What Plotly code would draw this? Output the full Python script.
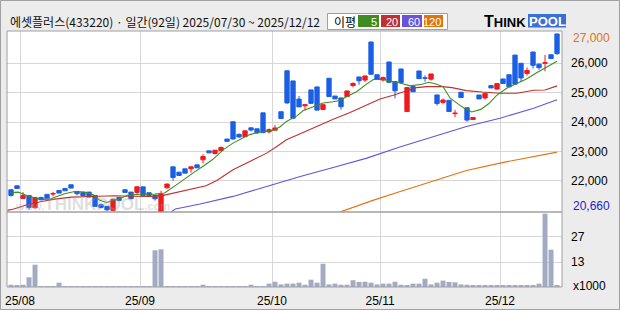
import plotly.graph_objects as go

# ---------------- data ----------------
day_index = list(range(92))   # 2025/07/30 .. 2025/12/12 trading days

opens = [21690, 21826, 21396, 21498, 21078, 21431, 21533, 21545, 21669, 21737,
         21862, 21635, 21601, 21613, 21500, 21182, 21130, 20990, 21431, 21692,
         21613, 21600, 21790, 21590, 21495, 20900, 21759, 22473, 22292, 22405,
         22405, 22541, 22711, 23017, 22927, 23028, 23420, 24010, 23580, 23500,
         23800, 23767, 24311, 23665, 23721, 24350, 25745, 25399, 24780, 24550,
         25093, 25195, 24424, 25490, 24885, 24820, 24866, 25245, 25535, 25430,
         26726, 25610, 25430, 26045, 25376, 25807, 24356, 25206, 25739, 25505,
         25460, 24922, 24668, 24740, 24285, 25014, 24485, 24084, 24920, 24820,
         25240, 25120, 25466, 25610, 26280, 26000, 25655, 26385, 25970, 26000,
         26290, 27000]
highs = [21720, 21840, 21610, 21498, 21430, 21450, 21533, 21624, 21669, 21737,
         21862, 21635, 21601, 21613, 21500, 21230, 21130, 21380, 21431, 21692,
         21613, 21794, 21790, 21590, 21495, 21657, 21910, 22473, 22292, 22405,
         22473, 22541, 22904, 23017, 23040, 23165, 23420, 24010, 23610, 23699,
         23820, 23767, 24311, 23780, 23902, 24350, 25745, 25399, 24889, 24594,
         25093, 25195, 24600, 25490, 24885, 24820, 25059, 25350, 25535, 25569,
         26726, 25610, 25545, 26045, 25376, 25807, 25172, 25206, 25739, 25590,
         25637, 24922, 24800, 24740, 24413, 25014, 24485, 24170, 24920, 24975,
         25240, 25308, 25466, 25610, 26280, 26000, 25860, 26385, 25990, 26283,
         26300, 27000]
lows = [21460, 21736, 21396, 21010, 21060, 21330, 21386, 21465, 21578, 21658,
        21749, 21500, 21488, 21443, 21125, 21050, 20960, 20950, 21300, 21601,
        21386, 21520, 21500, 21500, 21320, 20660, 21725, 21997, 22179, 22258,
        22280, 22439, 22587, 22949, 22890, 23028, 23340, 23400, 23460, 23500,
        23680, 23590, 23620, 23610, 23721, 24118, 24620, 24110, 24515, 24390,
        24620, 24390, 24424, 24866, 24787, 24420, 24866, 25180, 25270, 25360,
        25626, 25450, 25380, 25350, 24805, 25290, 24356, 25030, 25478, 25370,
        25410, 24560, 24610, 24356, 24163, 24832, 24010, 24070, 24787, 24760,
        25160, 25100, 25310, 25200, 25290, 25380, 25580, 25820, 25780, 25728,
        26160, 26280]
closes = [21500, 21736, 21498, 21090, 21430, 21352, 21386, 21560, 21578, 21658,
          21749, 21556, 21488, 21443, 21125, 21091, 21010, 21370, 21329, 21601,
          21386, 21794, 21500, 21500, 21386, 21544, 21884, 22110, 22179, 22258,
          22473, 22439, 22825, 22949, 23040, 23131, 23340, 23420, 23490, 23699,
          23725, 23630, 23640, 23740, 23795, 24118, 24650, 24129, 24515, 24590,
          24635, 24405, 24590, 24866, 24787, 24520, 25059, 25312, 25405, 25569,
          25626, 25450, 25512, 25350, 25065, 25345, 25172, 25030, 25478, 25490,
          25637, 24628, 24747, 24356, 24300, 24832, 24065, 24152, 24787, 24975,
          25160, 25308, 25310, 25200, 25290, 25500, 25755, 25931, 25852, 26020,
          26160, 26330]
volumes = [1.2, 0.6, 1.2, 5.2, 11.9, 0.5, 0.5, 0.5, 2.3, 0.5,
           0.5, 0.5, 0.5, 0.5, 0.5, 0.5, 0.5, 0.5, 0.5, 0.5,
           0.5, 0.5, 0.5, 0.5, 19.6, 20.1, 0.5, 0.5, 0.5, 0.5,
           0.5, 0.5, 1.2, 0.5, 0.5, 0.5, 0.5, 0.5, 0.5, 0.5,
           1.2, 0.5, 0.5, 1.8, 2.8, 1.4, 1.8, 1.8, 2.3, 1.2,
           3.9, 2.3, 12.4, 1.4, 1.8, 1.2, 1.2, 3.6, 2.7, 2.8,
           2.3, 1.4, 1.8, 1.8, 2.8, 1.2, 0.7, 1.8, 1.8, 4.4,
           1.4, 2.3, 3.4, 2.7, 2.5, 1.4, 1.2, 0.7, 0.7, 0.9,
           1.1, 0.9, 0.9, 1.1, 1.1, 0.9, 0.9, 0.9, 1.8, 39.1,
           19.9, 0.7]

# moving averages at these day positions
ma5_x = [0, 1.2, 2.3, 3.4, 4.5, 6.2, 7.3, 8.9, 10.6, 12.3, 13.7, 14.8, 15.9, 17.3,
         18.4, 19.5, 21.5, 24, 25.6, 27.5, 29, 30.6, 32.2, 33.6, 35.4, 37, 38.7,
         39.8, 41.5, 43.7, 44.8, 45.9, 47.6, 48.7, 50.4, 52, 53.7, 54.8, 55.9, 57.6,
         59.3, 60.4, 62, 63.7, 65, 66.5, 68.5, 69.6, 70.8, 72, 73.2, 74.6, 75.5,
         76.8, 78.3, 79.6, 80.9, 82.6, 84.3, 85.9, 87.6, 89.3, 91]
ma5_y = [21600, 21610, 21520, 21440, 21375, 21350, 21440, 21555, 21630, 21610, 21520,
         21330, 21260, 21350, 21410, 21510, 21540, 21544, 21580, 21850, 22080, 22300,
         22520, 22720, 23060, 23280, 23460, 23570, 23660, 23720, 23830, 24020, 24200,
         24390, 24520, 24650, 24690, 24730, 24860, 25030, 25300, 25450, 25450, 25380,
         25320, 25230, 25286, 25354, 25297, 25206, 24810, 24600, 24480, 24340, 24430,
         24620, 24900, 25150, 25300, 25467, 25680, 25864, 26070]
ma20_x = [-0.6, 0.45, 2.3, 5.1, 7.3, 10.1, 13.4, 17.3, 20, 23.2, 25.4, 28.2, 30.4,
          32.5, 34.3, 37, 39.8, 42.6, 44.3, 45.9, 48.2, 50.9, 53.7, 56.5, 59.3, 61.5,
          63.7, 66, 67.6, 69.3, 71.9, 73.5, 75.9, 78.5, 81.5, 84.3, 87.1, 89, 91]
ma20_y = [20990, 21033, 21158, 21294, 21373, 21441, 21464, 21486, 21470, 21465, 21500,
          21635, 21740, 21830, 22010, 22372, 22656, 22939, 23166, 23393, 23597, 23846,
          24095, 24322, 24583, 24787, 24912, 25050, 25172, 25206, 25206, 25170, 25070,
          25020, 24980, 24980, 25080, 25090, 25230]
ma60_x = [26.6, 27.4, 31.5, 37, 42.6, 48.2, 53.7, 59.3, 64.8, 70.4, 75.9, 81.5, 87.1, 91]
ma60_y = [20930, 21035, 21204, 21465, 21800, 22145, 22452, 22769, 23150, 23506, 23846,
          24129, 24470, 24760]
ma120_x = [54.8, 60.3, 65, 70.4, 75.9, 81.5, 87.1, 91]
ma120_y = [20930, 21330, 21640, 22000, 22350, 22600, 22826, 22975]

price_ticks = [22000, 23000, 24000, 25000, 26000]
price_labels = ["22,000", "23,000", "24,000", "25,000", "26,000"]
vol_ticks = [13.33, 26.67]
vol_labels = ["13", "27"]
month_first_day = [2, 22, 44, 62, 82]
month_labels = ["25/08", "25/09", "25/10", "25/11", "25/12"]

title_text = "에셋플러스(433220) · 일간(92일) 2025/07/30 ~ 2025/12/12"
max_label, min_label = "27,000", "20,660"

# ---------------- styling ----------------
W, H = 620, 310
ML, MR, MT, MB = 7, 58, 31, 23
PW, PH = W - ML - MR, H - MT - MB
SPLIT_Y = 212  # pixel y of price/volume border

def px(xp):
    return (xp - ML) / PW

def py(yp):
    return (H - MB - yp) / PH

RED, BLUE = "#f01a1e", "#1b5fe4"
GRID = "#d7d7d7"
FRAME = "#a0a0a0"
LBL_FONT = "Liberation Sans"
KR_FONT = "Noto Sans CJK KR"

xr = [-0.67, 91.83]
grid_pos = [d - 0.5 for d in month_first_day]

fig = go.Figure()
fig.add_trace(go.Bar(x=day_index, y=volumes, marker=dict(color="#a3abc3", line=dict(width=0)),
                     xaxis="x2", yaxis="y2", hoverinfo="skip", showlegend=False))
fig.add_trace(go.Candlestick(x=day_index, open=opens, high=highs, low=lows, close=closes,
                             increasing=dict(line=dict(color=RED, width=1), fillcolor=RED),
                             decreasing=dict(line=dict(color=BLUE, width=1), fillcolor=BLUE),
                             whiskerwidth=0, xaxis="x", yaxis="y", hoverinfo="skip",
                             showlegend=False))
for xs, ys, col in [(ma120_x, ma120_y, "#e07412"), (ma60_x, ma60_y, "#6a52da"),
                    (ma20_x, ma20_y, "#c0302f"), (ma5_x, ma5_y, "#3f8c22")]:
    fig.add_trace(go.Scatter(x=xs, y=ys, mode="lines", line=dict(color=col, width=1.1),
                             xaxis="x", yaxis="y", hoverinfo="skip", showlegend=False))

split = py(SPLIT_Y)
axis_common = dict(showline=False, zeroline=False, gridcolor=GRID, gridwidth=1,
                   automargin=False)
fig.update_layout(
    width=W, height=H, margin=dict(l=ML, r=MR, t=MT, b=MB),
    paper_bgcolor="#ececec", plot_bgcolor="white",
    boxgap=0.28, boxgroupgap=0, bargap=0.17,
    xaxis=dict(domain=[0, 1], anchor="y", range=xr, tickvals=grid_pos, showticklabels=False,
               showgrid=True, rangeslider=dict(visible=False), **axis_common),
    yaxis=dict(domain=[split, 1], anchor="x", side="right", range=[20934, 27100],
               tickvals=price_ticks, ticktext=price_labels, showgrid=True, ticks="",
               ticklabelstandoff=8, tickfont=dict(family=LBL_FONT, size=12, color="black"),
               **axis_common),
    xaxis2=dict(domain=[0, 1], anchor="y2", range=xr, tickvals=grid_pos, ticktext=month_labels,
                showgrid=True, ticks="", ticklabelstandoff=5,
                tickfont=dict(family=LBL_FONT, size=12, color="black"), **axis_common),
    yaxis2=dict(domain=[0, split], anchor="x2", side="right", range=[0, 40],
                tickvals=vol_ticks, ticktext=vol_labels, showgrid=True, ticks="",
                ticklabelstandoff=8, tickfont=dict(family=LBL_FONT, size=12, color="black"),
                **axis_common),
)

shapes = [
    dict(type="rect", xref="x domain", yref="y domain", x0=0, x1=1, y0=0, y1=1,
         line=dict(color=FRAME, width=1)),
    dict(type="rect", xref="x2 domain", yref="y2 domain", x0=0, x1=1, y0=0, y1=1,
         line=dict(color=FRAME, width=1)),
    dict(type="rect", xref="paper", yref="paper", x0=px(0.5), x1=px(619.5), y0=py(309.5),
         y1=py(0.5), line=dict(color=FRAME, width=1)),
    # legend box
    dict(type="rect", xref="paper", yref="paper", x0=px(327.5), x1=px(447.5), y0=py(29.5),
         y1=py(13.5), line=dict(color=FRAME, width=1), fillcolor="white"),
]
legend_items = [("5", "#3f8c22", 358, 379), ("20", "#c0302f", 381, 400),
                ("60", "#6a52da", 402, 422), ("120", "#e07412", 424, 443)]
annotations = []
for label, col, x0, x1 in legend_items:
    shapes.append(dict(type="rect", xref="paper", yref="paper", x0=px(x0), x1=px(x1),
                       y0=py(27), y1=py(15), line=dict(width=0), fillcolor=col))
    annotations.append(dict(xref="paper", yref="paper", x=px(x1), y=py(21.5),
                            xanchor="right", yanchor="middle", showarrow=False, text=label,
                            font=dict(family=LBL_FONT, size=11, color="white")))
annotations.append(dict(xref="paper", yref="paper", x=px(332), y=py(21), xanchor="left",
                        yanchor="middle", showarrow=False, text="이평",
                        font=dict(family=KR_FONT, size=12, color="black")))
# title
annotations.append(dict(xref="paper", yref="paper", x=px(8), y=py(21), xanchor="left",
                        yanchor="middle", showarrow=False, text=title_text,
                        font=dict(family=KR_FONT, size=12, color="#111111")))
# logo
shapes.append(dict(type="rect", xref="paper", yref="paper", x0=px(528), x1=px(566),
                   y0=py(27.5), y1=py(14), line=dict(width=0), fillcolor="#3b6fd8"))
annotations.append(dict(xref="paper", yref="paper", x=px(528), y=py(21.5), xanchor="right",
                        yanchor="middle", showarrow=False,
                        text="<b><span style='font-size:16px'>T</span>HINK</b>",
                        font=dict(family="Liberation Sans", size=13, color="black")))
annotations.append(dict(xref="paper", yref="paper", x=px(547), y=py(21.5), xanchor="center",
                        yanchor="middle", showarrow=False, text="<b>POOL</b>",
                        font=dict(family="Liberation Sans", size=13, color="white")))
# watermark
annotations.append(dict(xref="paper", yref="paper", x=px(92), y=py(204), xanchor="center",
                        yanchor="middle", showarrow=False,
                        text="<b><span style='font-size:11px'>www.</span>THINKPOOL<span style='font-size:11px'>.com</span></b>",
                        font=dict(family="Liberation Sans", size=17, color="rgba(160,160,160,0.35)")))
# max / min labels and volume unit
annotations.append(dict(xref="paper", yref="paper", x=px(571), y=py(38), xanchor="left",
                        yanchor="middle", showarrow=False, text=max_label,
                        font=dict(family=LBL_FONT, size=12, color="#e07412")))
annotations.append(dict(xref="paper", yref="paper", x=px(571), y=py(206), xanchor="left",
                        yanchor="middle", showarrow=False, text=min_label,
                        font=dict(family=LBL_FONT, size=12, color="#1c1ccc")))
annotations.append(dict(xref="paper", yref="paper", x=px(571), y=py(286), xanchor="left",
                        yanchor="middle", showarrow=False, text="x1000",
                        font=dict(family=LBL_FONT, size=12, color="black")))

fig.update_layout(shapes=shapes, annotations=annotations)
fig.write_html("out.html")
